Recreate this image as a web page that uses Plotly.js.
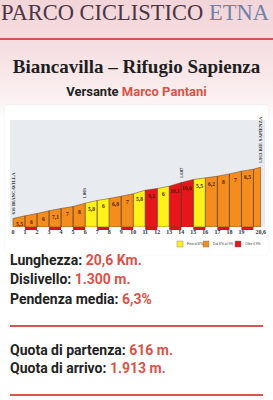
<!DOCTYPE html>
<html>
<head>
<meta charset="utf-8">
<script src="https://cdn.plot.ly/plotly-3.0.1.min.js"></script>
<style>
  html, body { margin:0; padding:0; }
  body { width:273px; height:400px; overflow:hidden; position:relative;
    background: linear-gradient(#f2d5d8 0px, #f5dde0 40px, #f9e9ea 80px, #fdf6f6 108px, #ffffff 120px); }
  .t { position:absolute; white-space:nowrap; }
  .rob { font-family: Roboto, 'Liberation Sans', sans-serif; font-weight:700; font-size:14px; line-height:14px; color:#222; left:10px; }
  .red { color:#dc5248; }
  .line { position:absolute; left:10px; width:253px; height:2px; background:#d9534f; }
  #card { position:absolute; left:5px; top:105px; width:263px; height:150px; background:#fff; border-radius:3px; box-shadow:0 0 2px rgba(0,0,0,0.08); }
  #chart { position:absolute; left:0; top:0; width:273px; height:400px; }
</style>
</head>
<body>
<div class="t" style="left:1px; top:0px; font-family:'Liberation Serif',serif; font-size:22.5px; line-height:normal; color:#4d3545;">PARCO CICLISTICO <span style="color:#6f82aa">ETNA</span></div>
<div style="position:absolute; left:0; top:38px; width:273px; height:2px; background:#d9534f;"></div>
<div class="t" style="left:0; width:273px; text-align:center; top:57px; font-family:'Liberation Serif',serif; font-weight:700; font-size:19px; line-height:19px; color:#1e1e1e;">Biancavilla – Rifugio Sapienza</div>
<div class="t" style="left:0; width:273px; text-align:center; top:85px; font-family:Roboto,sans-serif; font-weight:700; font-size:13px; line-height:13px; color:#222;">Versante <span class="red">Marco Pantani</span></div>
<div id="card"></div>
<div id="chart"></div>
<div class="t rob" style="top:253px;">Lunghezza: <span class="red">20,6 Km.</span></div>
<div class="t rob" style="top:272px;">Dislivello: <span class="red">1.300 m.</span></div>
<div class="t rob" style="top:292px;">Pendenza media: <span class="red">6,3%</span></div>
<div class="line" style="top:325px;"></div>
<div class="t rob" style="top:343px;">Quota di partenza: <span class="red">616 m.</span></div>
<div class="t rob" style="top:361px;">Quota di arrivo: <span class="red">1.913 m.</span></div>
<div class="line" style="top:394px;"></div>
<script>
// ---- data ----
const km = [0,1,2,3,4,5,6,7,8,9,10,11,12,13,14,15,16,17,18,19,20,20.6];
const elev = [616,683,742,810,869,919,1003,1071,1121,1180,1239,1332,1374,1433,1525,1601,1643,1685,1744,1812,1862,1913];
const gradeLabels = ["5,5","6","6","7,1","7","8","5,8","6","6,8","7","5,8","9,1","6","10,1","10,6","5,5","6,2","8","7","6,5",""];
const segClass = ["O","O","O","O","O","O","Y","Y","O","O","Y","R","Y","R","R","Y","O","O","O","O","O"];
const classNames = {Y:"Fino al 6%", O:"Dal 6% al 9%", R:"Oltre il 9%"};
const markerKm = [0, 6, 14, 20.6];
const markerText = ["616 BIANCAVILLA", "1.003", "1.607", "1.913 RIF. SAPIENZA"];
const kmStripes = [1,3,5,7,9,11,13,15,17,19];
const tickVals = [0,1,2,3,4,5,6,7,8,9,10,11,12,13,14,15,16,17,18,19,20.6];
const tickText = ["0","1","2","3","4","5","6","7","8","9","10","11","12","13","14","15","16","17","18","19","20,6"];
const BASE = 400;

// ---- styles ----
const colors = {Y:"#fff21a", O:"#f48c1e", R:"#e8161c"};
const L = 10, R = 8, T = 120, B = 173, W = 273, H = 400;
const pw = W - L - R, ph = H - T - B;
const px = x => (x - L) / pw;
const py = y => (H - B - y) / ph;

const traces = ["Y","O","R"].map(c => {
  const xs = [], ys = [];
  for (let i = 0; i < km.length - 1; i++) {
    if (segClass[i] !== c) continue;
    xs.push(km[i], km[i], km[i+1], km[i+1], km[i], null);
    ys.push(BASE, elev[i], elev[i+1], BASE, BASE, null);
  }
  return {type:"scatter", mode:"lines", x:xs, y:ys, fill:"toself", fillcolor:colors[c],
    line:{color:"#5b3b22", width:0.5}, name:classNames[c], hoverinfo:"skip", showlegend:false};
});

const annotations = [];
for (let i = 0; i < km.length - 1; i++) {
  if (!gradeLabels[i]) continue;
  annotations.push({x:(km[i]+km[i+1])/2, y:(elev[i]+elev[i+1])/2, text:"<b>"+gradeLabels[i]+"</b>",
    showarrow:false, yanchor:"top", yshift:-2, font:{family:"Liberation Sans Narrow", size:5.5, color:"#4a1a05"}});
}
markerKm.forEach((k, j) => {
  const idx = km.indexOf(k);
  annotations.push({x:k, y:elev[idx], text:"<b>"+markerText[j]+"</b>", textangle:-90, showarrow:false,
    yanchor:"bottom", xanchor:"center", yshift:2, font:{family:"Liberation Sans Narrow", size:4.8, color:"#2a2a2a"}});
});

const shapes = kmStripes.map(k => ({type:"rect", xref:"x", yref:"paper", x0:k, x1:k+1, y0:-3/ph, y1:0,
  fillcolor:"#d8141a", line:{width:0}}));

// legend
const legendX = [177, 203, 235];
["Y","O","R"].forEach((c, j) => {
  shapes.push({type:"rect", xref:"paper", yref:"paper", x0:px(legendX[j]), x1:px(legendX[j]+6),
    y0:py(247), y1:py(241), fillcolor:colors[c], line:{width:0.4, color:"#777"}});
  annotations.push({xref:"paper", yref:"paper", x:px(legendX[j]+7.5), y:py(244), xanchor:"left", yanchor:"middle",
    text:classNames[c], showarrow:false, font:{family:"Liberation Sans", size:3.4, color:"#333"}});
});

const layout = {
  width:W, height:H, margin:{l:L, r:R, t:T, b:B},
  paper_bgcolor:"rgba(0,0,0,0)", plot_bgcolor:"#e8ecf0",
  xaxis:{range:[-0.25, 20.96], tickvals:tickVals, ticktext:tickText, showgrid:false, zeroline:false,
    ticks:"", tickfont:{family:"Liberation Sans Narrow", size:6, color:"#333", weight:"bold"}, fixedrange:true},
  yaxis:{range:[BASE, 3107], showgrid:false, zeroline:false, showticklabels:false, ticks:"", fixedrange:true},
  showlegend:false, shapes:shapes, annotations:annotations
};
Plotly.newPlot("chart", traces, layout, {displayModeBar:false, staticPlot:true});
</script>
</body>
</html>
